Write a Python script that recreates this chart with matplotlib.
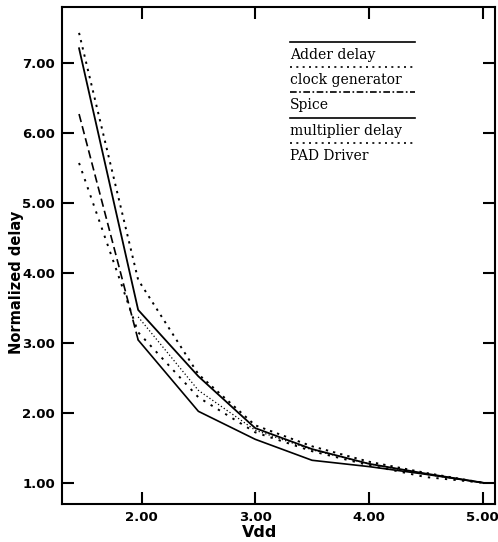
import numpy as np
import matplotlib
matplotlib.use("Agg")
import matplotlib.pyplot as plt
from matplotlib.lines import Line2D

# data
vdd = [1.45, 1.97, 2.5, 3.0, 3.5, 4.0, 4.5, 5.0]
adder_delay = [7.21, 3.47, 2.52, 1.78, 1.48, 1.27, 1.13, 1.0]
clock_gen = [7.43, 3.90, 2.55, 1.82, 1.52, 1.30, 1.14, 1.0]
spice = [np.nan, 3.37, 2.32, 1.75, 1.47, 1.27, 1.12, 1.0]
multiplier = [6.27, 3.04, 2.02, 1.62, 1.32, 1.23, 1.12, 1.0]
pad_driver = [5.57, 3.15, 2.22, 1.72, 1.45, 1.25, 1.08, 1.0]

legend_labels = ["Adder delay", "clock generator", "Spice",
                 "multiplier delay", "PAD Driver"]
xticks = [2.0, 3.0, 4.0, 5.0]
yticks = [1.0, 2.0, 3.0, 4.0, 5.0, 6.0, 7.0]

fig = plt.figure(figsize=(4.98, 5.42), dpi=100)
ax = fig.add_axes([0.1245, 0.0701, 0.8695, 0.917])

ax.plot(vdd, adder_delay, color="black", lw=1.3, ls="-")
ax.plot(vdd, clock_gen, color="black", lw=1.4, ls=(0, (1.2, 2.6)))
ax.plot(vdd, spice, color="black", lw=0.9, ls=(0, (1, 1.8)))
# multiplier curve: dashed above 2V, solid below
ax.plot(vdd[:2], multiplier[:2], color="black", lw=1.2, ls=(0, (5, 2.5)))
ax.plot(vdd[1:], multiplier[1:], color="black", lw=1.2, ls="-")
ax.plot(vdd, pad_driver, color="black", lw=1.4, ls=(0, (1.2, 3.2)))

ax.set_xlim(1.30, 5.11)
ax.set_ylim(0.695, 7.80)
ax.set_xticks(xticks)
ax.set_yticks(yticks)
ax.set_xticklabels([f"{t:.2f}" for t in xticks])
ax.set_yticklabels([f"{t:.2f}" for t in yticks])
ax.tick_params(direction="in", length=8.5, width=1.5, top=True, right=True,
               labelsize=9.5, pad=5)
for lab in ax.get_xticklabels() + ax.get_yticklabels():
    lab.set_fontweight("bold")
    lab.set_family("DejaVu Sans")
for s in ax.spines.values():
    s.set_linewidth(1.5)

ax.set_xlabel("Vdd", fontsize=11.5, fontweight="bold", family="DejaVu Sans")
ax.set_ylabel("Normalized delay", fontsize=10.5, fontweight="bold",
              family="DejaVu Sans")
ax.xaxis.set_label_coords(0.457, -0.042)
ax.yaxis.set_label_coords(-0.088, 0.445)

# hand-drawn style legend: a rule above each label
styles = ["-", (0, (1.2, 2.6)), (0, (4, 1.5, 1, 1.5)), "-", (0, (1.2, 2.6))]
x0, x1 = (290 - 62) / 433, (415 - 62) / 433
for i, (lab, st) in enumerate(zip(legend_labels, styles)):
    yl = 1 - (41.7 + 25.4 * i - 7) / 497
    ax.add_line(Line2D([x0, x1], [yl, yl], transform=ax.transAxes,
                       color="black", lw=1.2, ls=st))
    ax.text(x0, yl - 0.026, lab, transform=ax.transAxes, fontsize=10,
            family="DejaVu Serif", va="center", ha="left")

fig.savefig("out.png", dpi=100)
